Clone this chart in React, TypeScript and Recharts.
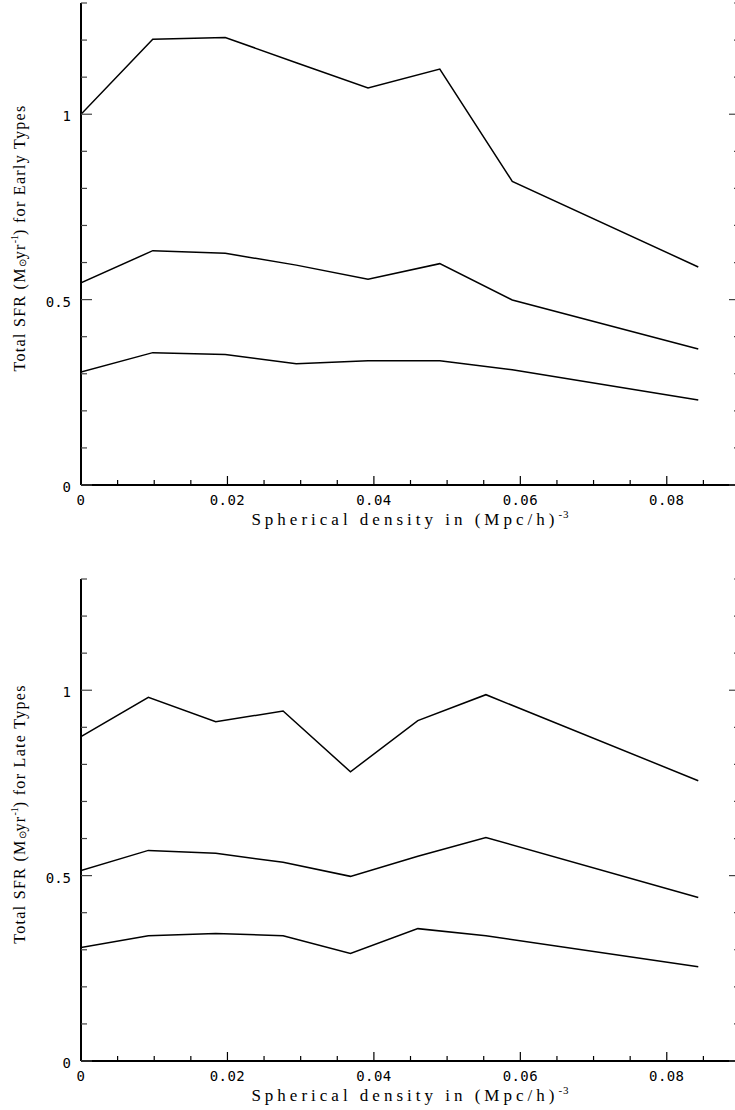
import { Line, LineChart, XAxis, YAxis } from "recharts";

// density bins (Mpc/h)^-3 and total SFR per bin
const earlyDensity = [0, 0.0098, 0.0197, 0.0294, 0.0392, 0.049, 0.0589, 0.0843];
const earlyHigh = [1.0, 1.202, 1.207, 1.139, 1.071, 1.122, 0.819, 0.588];
const earlyMid = [0.545, 0.632, 0.625, 0.593, 0.555, 0.597, 0.499, 0.367];
const earlyLow = [0.305, 0.357, 0.352, 0.327, 0.335, 0.335, 0.311, 0.229];

const lateDensity = [0, 0.0092, 0.0184, 0.0276, 0.0368, 0.046, 0.0553, 0.0843];
const lateHigh = [0.875, 0.981, 0.915, 0.944, 0.78, 0.918, 0.988, 0.756];
const lateMid = [0.514, 0.568, 0.56, 0.536, 0.498, 0.552, 0.603, 0.441];
const lateLow = [0.306, 0.338, 0.344, 0.338, 0.29, 0.357, 0.338, 0.254];

const xTicks = [
  0, 0.005, 0.01, 0.015, 0.02, 0.025, 0.03, 0.035, 0.04, 0.045,
  0.05, 0.055, 0.06, 0.065, 0.07, 0.075, 0.08, 0.085, 0.09,
];
const yTicks = [0, 0.1, 0.2, 0.3, 0.4, 0.5, 0.6, 0.7, 0.8, 0.9, 1, 1.1, 1.2, 1.3];

const tickFont = "'DejaVu Sans Mono', monospace";
const titleFont = "'Liberation Serif', serif";

const isMajorX = (v: number) => Math.abs(v / 0.02 - Math.round(v / 0.02)) < 1e-6;
const isMajorY = (v: number) => Math.abs(v / 0.5 - Math.round(v / 0.5)) < 1e-6;
const fmtX = (v: number) => (v === 0 ? "0" : v.toFixed(2));
const fmtY = (v: number) => (v === 0 ? "0" : String(Math.round(v * 10) / 10));

function BottomTick({ x, y, payload }: any) {
  const major = isMajorX(payload.value);
  return (
    <g>
      <line x1={x} y1={y} x2={x} y2={y - (major ? 9 : 5)} stroke="#000" strokeWidth={1.2} />
      {major && (
        <text x={x} y={y + 15} textAnchor="middle" dominantBaseline="central"
          fontFamily={tickFont} fontSize={14} letterSpacing={0.4} fill="#000">
          {fmtX(payload.value)}
        </text>
      )}
    </g>
  );
}

function TopTick({ x, y, payload }: any) {
  const major = isMajorX(payload.value);
  return <line x1={x} y1={y} x2={x} y2={y + (major ? 8 : 4)} stroke="#000" strokeWidth={1.2} />;
}

function LeftTick({ x, y, payload }: any) {
  const major = isMajorY(payload.value);
  return (
    <g>
      <line x1={x} y1={y} x2={x + (major ? 11 : 6)} y2={y} stroke="#444" strokeWidth={1.2} />
      {major && (
        <text x={x - 10} y={y + 2} textAnchor="end" dominantBaseline="central"
          fontFamily={tickFont} fontSize={14} fill="#000">
          {fmtY(payload.value)}
        </text>
      )}
    </g>
  );
}

function RightTick({ x, y, payload }: any) {
  const major = isMajorY(payload.value);
  return <line x1={x} y1={y} x2={x - (major ? 11 : 6)} y2={y} stroke="#444" strokeWidth={1.2} />;
}

function XTitle({ viewBox }: any) {
  const { x, y, width } = viewBox;
  return (
    <text x={x + width / 2} y={y + 34} textAnchor="middle" dominantBaseline="central"
      fontFamily={titleFont} fontSize={17} letterSpacing={4} fill="#000">
      Spherical density in (Mpc/h)
      <tspan dy={-5} fontSize={11} letterSpacing={1}>-3</tspan>
    </text>
  );
}

function makeYTitle(kind: string) {
  return function YTitle({ viewBox }: any) {
    const { y, height } = viewBox;
    const cx = 19;
    const cy = y + height / 2 - 6;
    return (
      <text x={cx} y={cy} transform={`rotate(-90, ${cx}, ${cy})`} textAnchor="middle"
        dominantBaseline="central" fontFamily={titleFont} fontSize={16} letterSpacing={1.3} fill="#000">
        Total SFR (M
        <tspan dy={3} fontSize={10} letterSpacing={0}>⊙</tspan>
        <tspan dy={-3}>yr</tspan>
        <tspan dy={-5} fontSize={10} letterSpacing={0}>-1</tspan>
        <tspan dy={5}>) for {kind} Types</tspan>
      </text>
    );
  };
}

function Panel({ density, high, mid, low, kind, top }: any) {
  const rows = density.map((d: number, i: number) => ({ density: d, high: high[i], mid: mid[i], low: low[i] }));
  const YTitle = makeYTitle(kind);
  return (
    <div style={{ position: "absolute", left: 0, top }}>
      <LineChart width={760} height={560} data={rows} margin={{ top: 3, right: 0, bottom: 0, left: 0 }}>
        <XAxis dataKey="density" type="number" domain={[0, 0.09]} ticks={xTicks} interval={0}
          height={75} tickSize={0} tickMargin={0} tickLine={false} tick={<BottomTick />}
          axisLine={{ stroke: "#000", strokeWidth: 2 }} allowDataOverflow
          label={<XTitle />} />
        <XAxis xAxisId="top" orientation="top" type="number" domain={[0, 0.09]} ticks={xTicks}
          interval={0} height={0} tickSize={0} tickMargin={0} tickLine={false} tick={<TopTick />}
          axisLine={{ stroke: "#000", strokeWidth: 2 }} allowDataOverflow />
        <YAxis type="number" domain={[0, 1.3]} ticks={yTicks} interval={0} width={81}
          tickSize={0} tickMargin={0} tickLine={false} tick={<LeftTick />}
          axisLine={{ stroke: "#000", strokeWidth: 2 }} allowDataOverflow label={<YTitle />} />
        <YAxis yAxisId="right" orientation="right" type="number" domain={[0, 1.3]} ticks={yTicks}
          interval={0} width={20} tickSize={0} tickMargin={0} tickLine={false} tick={<RightTick />}
          axisLine={{ stroke: "#000", strokeWidth: 2 }} allowDataOverflow />
        <Line type="linear" dataKey="high" stroke="#000" strokeWidth={1.5} dot={false} isAnimationActive={false} />
        <Line type="linear" dataKey="mid" stroke="#000" strokeWidth={1.5} dot={false} isAnimationActive={false} />
        <Line type="linear" dataKey="low" stroke="#000" strokeWidth={1.5} dot={false} isAnimationActive={false} />
      </LineChart>
    </div>
  );
}

export default function App() {
  return (
    <div style={{ position: "absolute", left: 0, top: 0, width: 735, height: 1110, overflow: "hidden", background: "#fff" }}>
      <Panel density={earlyDensity} high={earlyHigh} mid={earlyMid} low={earlyLow} kind="Early" top={0} />
      <Panel density={lateDensity} high={lateHigh} mid={lateMid} low={lateLow} kind="Late" top={576} />
    </div>
  );
}
